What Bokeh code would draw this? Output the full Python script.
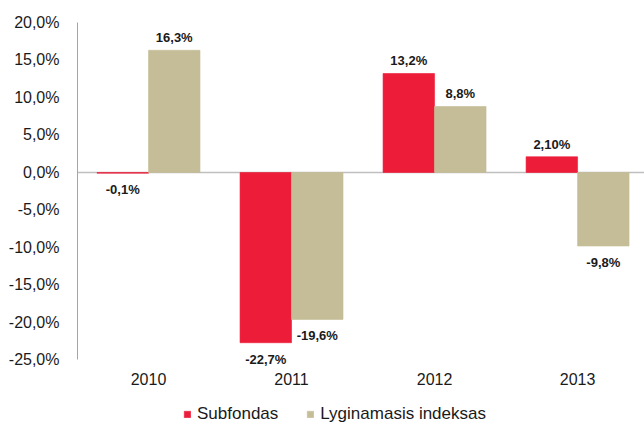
from bokeh.plotting import figure
from bokeh.models import ColumnDataSource, Span, Legend, LegendItem, FixedTicker, Range1d, LabelSet
from bokeh.core.properties import value
from bokeh.embed import file_html
from bokeh.resources import INLINE

years = ["2010", "2011", "2012", "2013"]
subfondas = [-0.1, -22.7, 13.2, 2.1]
indeksas = [16.3, -19.6, 8.8, -9.8]
subfondas_labels = ["-0,1%", "-22,7%", "13,2%", "2,10%"]
indeksas_labels = ["16,3%", "-19,6%", "8,8%", "-9,8%"]
y_ticks = [-25, -20, -15, -10, -5, 0, 5, 10, 15, 20]
y_tick_labels = ["-25,0%", "-20,0%", "-15,0%", "-10,0%", "-5,0%", "0,0%", "5,0%", "10,0%", "15,0%", "20,0%"]

RED = "#ED1C39"
TAN = "#C5BD97"
FONT = "Liberation Sans"

p = figure(frame_width=567, frame_height=401, output_backend="svg", toolbar_location=None,
           x_range=Range1d(-0.4965, 3.468), y_range=Range1d(-33.47, 20),
           min_border_left=77, min_border_right=0, min_border_top=22, min_border_bottom=0)
p.outline_line_color = None
p.background_fill_color = "white"
p.border_fill_color = "white"
p.grid.visible = False

xs = list(range(len(years)))
off = 0.18
w = 0.36
src_r = ColumnDataSource(dict(x=[x - off for x in xs], top=subfondas, lab=subfondas_labels))
src_t = ColumnDataSource(dict(x=[x + off for x in xs], top=indeksas, lab=indeksas_labels))

p.add_layout(Span(location=0, dimension="width", line_color="#BFBFBF", line_width=1.5, level="underlay"))

r1 = p.vbar(x="x", top="top", bottom=0, width=w, source=src_r, fill_color=RED, line_color=RED, line_width=0.6)
r2 = p.vbar(x="x", top="top", bottom=0, width=w, source=src_t, fill_color=TAN, line_color=TAN, line_width=0.6)

def add_labels(xv, vals, labs):
    pos = [i for i, v in enumerate(vals) if v >= 0]
    neg = [i for i, v in enumerate(vals) if v < 0]
    for idx, yoff, base in ((pos, 5, "bottom"), (neg, -9, "top")):
        if not idx:
            continue
        s = ColumnDataSource(dict(x=[xv[i] for i in idx], y=[vals[i] for i in idx], lab=[labs[i] for i in idx]))
        p.add_layout(LabelSet(x="x", y="y", text="lab", source=s, y_offset=yoff, text_baseline=base,
                              text_align="center", text_font=value(FONT), text_font_size="13px",
                              text_font_style="bold", text_color="#1a1a1a"))

add_labels([x - off for x in xs], subfondas, subfondas_labels)
add_labels([x + off for x in xs], indeksas, indeksas_labels)

# axes
p.yaxis.ticker = FixedTicker(ticks=y_ticks)
p.yaxis.bounds = (-25, 20)
p.yaxis.major_label_overrides = {t: l for t, l in zip(y_ticks, y_tick_labels)}
p.yaxis.major_tick_line_color = None
p.yaxis.minor_tick_line_color = None
p.yaxis.axis_line_color = "#A6A6A6"
p.yaxis.axis_line_width = 1
p.yaxis.major_label_standoff = 12
p.yaxis.major_label_text_font = FONT
p.yaxis.major_label_text_font_size = "16px"
p.yaxis.major_label_text_color = "#1a1a1a"

p.xaxis.ticker = FixedTicker(ticks=xs)
p.xaxis.fixed_location = -25
p.xaxis.major_label_overrides = {i: y for i, y in enumerate(years)}
p.xaxis.axis_line_color = None
p.xaxis.major_tick_line_color = None
p.xaxis.minor_tick_line_color = None
p.xaxis.major_label_standoff = 7
p.xaxis.major_label_text_font = FONT
p.xaxis.major_label_text_font_size = "16px"
p.xaxis.major_label_text_color = "#1a1a1a"

legend = Legend(items=[LegendItem(label="Subfondas", renderers=[r1]),
                       LegendItem(label="Lyginamasis indeksas", renderers=[r2])],
                orientation="horizontal", location=(106, -1),
                label_text_font=FONT, label_text_font_size="17px", label_text_color="#1a1a1a",
                glyph_width=8, glyph_height=8, label_standoff=6, spacing=28,
                border_line_color=None, background_fill_alpha=0, padding=0, margin=0)
p.add_layout(legend)

open("out.html", "w").write(file_html(p, INLINE))
